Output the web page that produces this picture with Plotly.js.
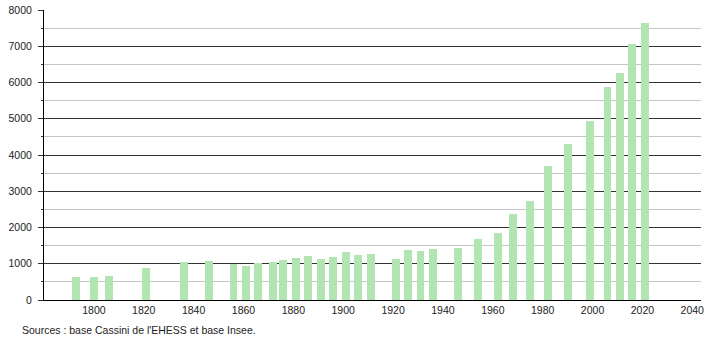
<!DOCTYPE html>
<html>
<head>
<meta charset="utf-8">
<script src="https://cdn.plot.ly/plotly-3.0.1.min.js"></script>
<style>
html,body{margin:0;padding:0;background:#fff;}
#chart{width:710px;height:340px;}
</style>
</head>
<body>
<div id="chart"></div>
<script>
const years = [1793,1800,1806,1821,1836,1846,1856,1861,1866,1872,1876,1881,1886,1891,1896,1901,1906,1911,1921,1926,1931,1936,1946,1954,1962,1968,1975,1982,1990,1999,2006,2011,2016,2021];
const population = [640,645,670,885,1050,1075,1000,950,1020,1050,1105,1160,1205,1130,1195,1315,1240,1270,1130,1380,1350,1410,1445,1670,1860,2370,2730,3705,4305,4940,5875,6270,7070,7640];
const yTicks = [0,1000,2000,3000,4000,5000,6000,7000,8000];
const xTicks = [1800,1820,1840,1860,1880,1900,1920,1940,1960,1980,2000,2020,2040];
const sourceText = "Sources : base Cassini de l'EHESS et base Insee.";

const font = {family: "Liberation Sans, Arial, sans-serif", size: 10.5, color: "#222"};

Plotly.newPlot("chart", [{
  type: "bar",
  x: years,
  y: population,
  width: 3.2,
  marker: {color: "#b3e5b3", line: {width: 0}},
  hoverinfo: "x+y"
}], {
  width: 710, height: 340,
  margin: {l: 44, r: 9, t: 10, b: 40},
  paper_bgcolor: "#fff", plot_bgcolor: "#fff",
  font: font,
  showlegend: false,
  bargap: 0,
  xaxis: {
    range: [1780, 2043.5],
    tickvals: xTicks,
    ticktext: xTicks.map(String),
    ticks: "",
    showgrid: false,
    zeroline: false,
    showline: true, linecolor: "#000", linewidth: 1,
    tickfont: font,
    ticklabelstandoff: 0,
    fixedrange: true
  },
  yaxis: {
    range: [0, 8000],
    tickvals: yTicks,
    ticktext: yTicks.map(String),
    ticks: "outside", ticklen: 5, tickcolor: "#333", tickwidth: 1,
    showgrid: true, gridcolor: "#333", gridwidth: 1,
    zeroline: false,
    showline: true, linecolor: "#000", linewidth: 1,
    tickfont: font,
    ticklabelstandoff: 4,
    minor: {dtick: 500, tick0: 0, showgrid: true, gridcolor: "#c4c4c4", gridwidth: 1, ticks: "outside", ticklen: 2, tickcolor: "#333"},
    fixedrange: true
  },
  annotations: [{
    text: sourceText,
    xref: "paper", yref: "paper",
    x: -0.036, y: -0.103,
    xanchor: "left", yanchor: "middle",
    showarrow: false,
    font: font
  }]
}, {displayModeBar: false, staticPlot: true});
</script>
</body>
</html>
